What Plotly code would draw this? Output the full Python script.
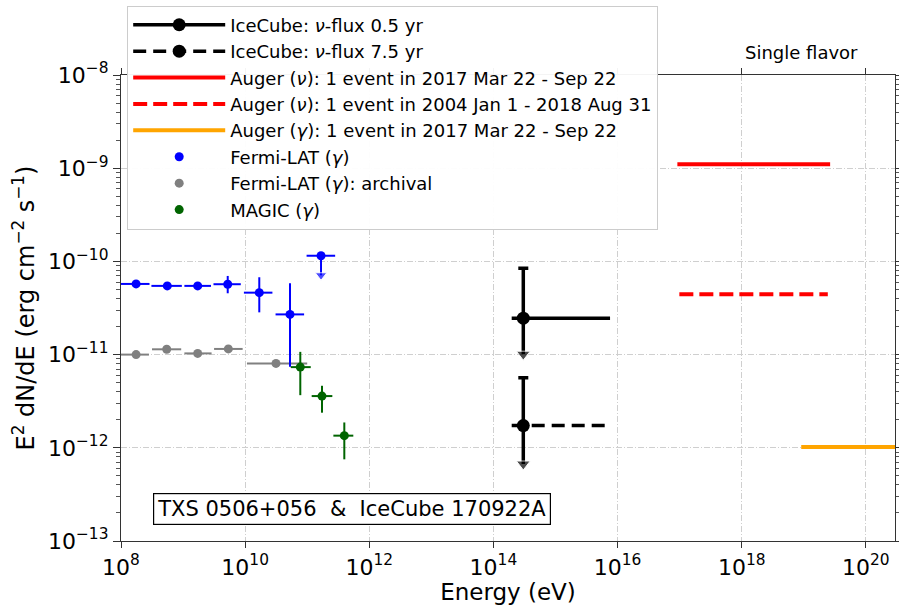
import numpy as np
import plotly.graph_objects as go

# ---------------- data ----------------
# Fermi-LAT flare (blue)
fermi_E = [1.75e8, 5.57e8, 1.72e9, 5.24e9, 1.69e10, 5.28e10]
fermi_Elo = [1.0e8, 3.09e8, 1.05e9, 3.09e9, 9.55e9, 3.09e10]
fermi_Ehi = [2.88e8, 9.55e8, 2.82e9, 8.51e9, 2.75e10, 8.91e10]
fermi_F = [5.73e-11, 5.46e-11, 5.46e-11, 5.69e-11, 4.62e-11, 2.70e-11]
fermi_Fhi = [6.15e-11, 5.85e-11, 6.0e-11, 6.98e-11, 6.76e-11, 5.83e-11]
fermi_Flo = [5.33e-11, 5.08e-11, 4.95e-11, 4.55e-11, 2.84e-11, 7.4e-12]
# Fermi-LAT upper limit
fermi_ul_E = [1.67e11]
fermi_ul_Elo = [9.77e10]
fermi_ul_Ehi = [2.82e11]
fermi_ul_F = [1.15e-10]
fermi_ul_arrow = [7.1e-11]

# Fermi-LAT archival (gray)
arch_E = [1.75e8, 5.45e8, 1.72e9, 5.36e9, 3.14e10]
arch_Elo = [1.0e8, 3.16e8, 1.05e9, 3.16e9, 1.07e10]
arch_Ehi = [2.82e8, 9.33e8, 2.88e9, 9.12e9, 1.0e11]
arch_F = [1.00e-11, 1.14e-11, 1.03e-11, 1.15e-11, 8.05e-12]

# MAGIC (green)
magic_E = [7.74e10, 1.73e11, 3.96e11]
magic_Elo = [5.43e10, 1.18e11, 2.64e11]
magic_Ehi = [1.14e11, 2.54e11, 5.53e11]
magic_F = [7.34e-12, 3.59e-12, 1.35e-12]
magic_Fhi = [1.07e-11, 4.63e-12, 1.87e-12]
magic_Flo = [3.67e-12, 2.38e-12, 7.52e-13]

# IceCube
ic_E = 3.03e14
ic_Elo = 1.97e14
ic_Ehi = 7.57e15
ic_labels = ["IceCube: <i>ν</i>-flux 0.5 yr", "IceCube: <i>ν</i>-flux 7.5 yr"]
ic_F = [2.46e-11, 1.73e-12]
ic_Fcap = [8.45e-11, 5.66e-12]
ic_arrow = [1.01e-11, 6.7e-13]
ic_dash = ["solid", "13px,7px"]

# Auger
auger_labels = ["Auger (<i>ν</i>): 1 event in 2017 Mar 22 - Sep 22",
                "Auger (<i>ν</i>): 1 event in 2004 Jan 1 - 2018 Aug 31",
                "Auger (<i>γ</i>): 1 event in 2017 Mar 22 - Sep 22"]
auger_Elo = [9.2e16, 9.9e16, 9.1e18]
auger_Ehi = [2.66e19, 2.44e19, 1.0e21]
auger_F = [1.10e-9, 4.45e-11, 1.02e-12]
auger_color = ["#ff0000", "#ff0000", "#ffa500"]
auger_dash = ["solid", "14px,6px", "solid"]

xtick_exp = [8, 10, 12, 14, 16, 18, 20]
ytick_exp = [-13, -12, -11, -10, -9, -8]

# ---------------- figure ----------------
fig = go.Figure()

# IceCube
for i in range(2):
    fig.add_trace(go.Scatter(
        x=[ic_Elo, ic_Ehi], y=[ic_F[i], ic_F[i]], mode="lines",
        line=dict(color="black", width=3.5, dash=ic_dash[i]),
        showlegend=False, hoverinfo="skip"))
    fig.add_trace(go.Scatter(
        x=[ic_E, ic_E], y=[ic_F[i], ic_arrow[i]], mode="lines+markers",
        line=dict(color="black", width=3.5),
        marker=dict(symbol="triangle-down", size=[0, 12], color="black"),
        showlegend=False, hoverinfo="skip"))
    fig.add_trace(go.Scatter(
        x=[ic_E], y=[ic_F[i]], mode="lines+markers", name=ic_labels[i],
        line=dict(color="black", width=3.5, dash=ic_dash[i]),
        marker=dict(symbol="circle", size=13, color="black"),
        error_y=dict(type="data", symmetric=False,
                     array=[ic_Fcap[i] - ic_F[i]], arrayminus=[0],
                     color="black", thickness=3.5, width=5),
        legendrank=1 + i))

# Auger
for i in range(3):
    fig.add_trace(go.Scatter(
        x=[auger_Elo[i], auger_Ehi[i]], y=[auger_F[i], auger_F[i]],
        mode="lines", name=auger_labels[i],
        line=dict(color=auger_color[i], width=4, dash=auger_dash[i]),
        legendrank=3 + i))

def errx(E, lo, hi):
    return dict(type="data", symmetric=False,
                array=list(np.array(hi) - np.array(E)),
                arrayminus=list(np.array(E) - np.array(lo)))

# Fermi-LAT archival
fig.add_trace(go.Scatter(
    x=arch_E, y=arch_F, mode="markers", name="Fermi-LAT (<i>γ</i>): archival",
    marker=dict(color="#808080", size=9),
    error_x=dict(**errx(arch_E, arch_Elo, arch_Ehi), color="#808080", thickness=2, width=0),
    legendrank=7))

# Fermi-LAT flare
fig.add_trace(go.Scatter(
    x=fermi_E, y=fermi_F, mode="markers", name="Fermi-LAT (<i>γ</i>)",
    marker=dict(color="#0000ff", size=9),
    error_x=dict(**errx(fermi_E, fermi_Elo, fermi_Ehi), color="#0000ff", thickness=2, width=0),
    error_y=dict(type="data", symmetric=False,
                 array=list(np.array(fermi_Fhi) - np.array(fermi_F)),
                 arrayminus=list(np.array(fermi_F) - np.array(fermi_Flo)),
                 color="#0000ff", thickness=2, width=0),
    legendrank=6))
fig.add_trace(go.Scatter(
    x=[fermi_ul_E[0], fermi_ul_E[0]], y=[fermi_ul_F[0], fermi_ul_arrow[0]],
    mode="lines+markers", line=dict(color="#0000ff", width=2),
    marker=dict(symbol="triangle-down", size=[0, 10], color="#0000ff"),
    showlegend=False, hoverinfo="skip"))
fig.add_trace(go.Scatter(
    x=fermi_ul_E, y=fermi_ul_F, mode="markers",
    marker=dict(color="#0000ff", size=9),
    error_x=dict(**errx(fermi_ul_E, fermi_ul_Elo, fermi_ul_Ehi), color="#0000ff", thickness=2, width=0),
    showlegend=False))

# MAGIC
fig.add_trace(go.Scatter(
    x=magic_E, y=magic_F, mode="markers", name="MAGIC (<i>γ</i>)",
    marker=dict(color="#006400", size=9),
    error_x=dict(**errx(magic_E, magic_Elo, magic_Ehi), color="#006400", thickness=2, width=0),
    error_y=dict(type="data", symmetric=False,
                 array=list(np.array(magic_Fhi) - np.array(magic_F)),
                 arrayminus=list(np.array(magic_F) - np.array(magic_Flo)),
                 color="#006400", thickness=2, width=0),
    legendrank=8))

font = "DejaVu Sans, Verdana, sans-serif"
grid = dict(showgrid=True, gridcolor="#cfcfcf", gridwidth=0.8, griddash="6px,2px,1px,2px")

yminor = [k * 10.0 ** e for e in range(-13, -8) for k in range(2, 10)]

fig.update_layout(
    width=899, height=605,
    margin=dict(l=121, r=4, t=75, b=64, autoexpand=False),
    paper_bgcolor="white", plot_bgcolor="white",
    font=dict(family=font, color="black"),
    showlegend=True,
    legend=dict(x=0.008, y=1.149, xanchor="left", yanchor="top",
                bgcolor="rgba(255,255,255,0.95)", bordercolor="#cccccc", borderwidth=1,
                font=dict(size=18, family=font), itemwidth=92,
                tracegroupgap=0),
    xaxis=dict(type="log", range=[8, 20.47],
               tickvals=[10.0 ** e for e in xtick_exp],
               ticktext=[f"10<sup>{e}</sup>" for e in xtick_exp],
               tickfont=dict(size=22), ticks="outside", ticklen=6, tickwidth=1.2,
               tickcolor="#333", showline=True, linecolor="#333", linewidth=1.3,
               mirror="ticks", zeroline=False,
               title=dict(text="Energy (eV)", font=dict(size=23), standoff=6),
               **grid),
    yaxis=dict(type="log", range=[-13, -8],
               tickvals=[10.0 ** e for e in ytick_exp],
               ticktext=[f"10<sup>−{-e}</sup>" for e in ytick_exp],
               tickfont=dict(size=22), ticks="outside", ticklen=7, tickwidth=1.2,
               tickcolor="#333", showline=True, linecolor="#333", linewidth=1.3,
               mirror="ticks", zeroline=False,
               minor=dict(tickvals=yminor, ticks="outside", ticklen=4,
                          tickcolor="#555", showgrid=False),
               title=dict(text="E<sup>2</sup> dN/dE (erg cm<sup>−2</sup> s<sup>−1</sup>)",
                          font=dict(size=24), standoff=6),
               **grid),
    annotations=[
        dict(text="TXS 0506+056\u00a0\u00a0&\u00a0\u00a0IceCube 170922A",
             xref="paper", yref="paper", x=0.299, y=0.0697,
             xanchor="center", yanchor="middle", showarrow=False,
             font=dict(size=21, family=font), bgcolor="white",
             bordercolor="black", borderwidth=1.2, borderpad=3),
        dict(text="Single flavor", xref="paper", yref="paper", x=0.879, y=1.048,
             xanchor="center", yanchor="middle", showarrow=False,
             font=dict(size=18, family=font)),
    ],
)

fig.write_html("out.html")
